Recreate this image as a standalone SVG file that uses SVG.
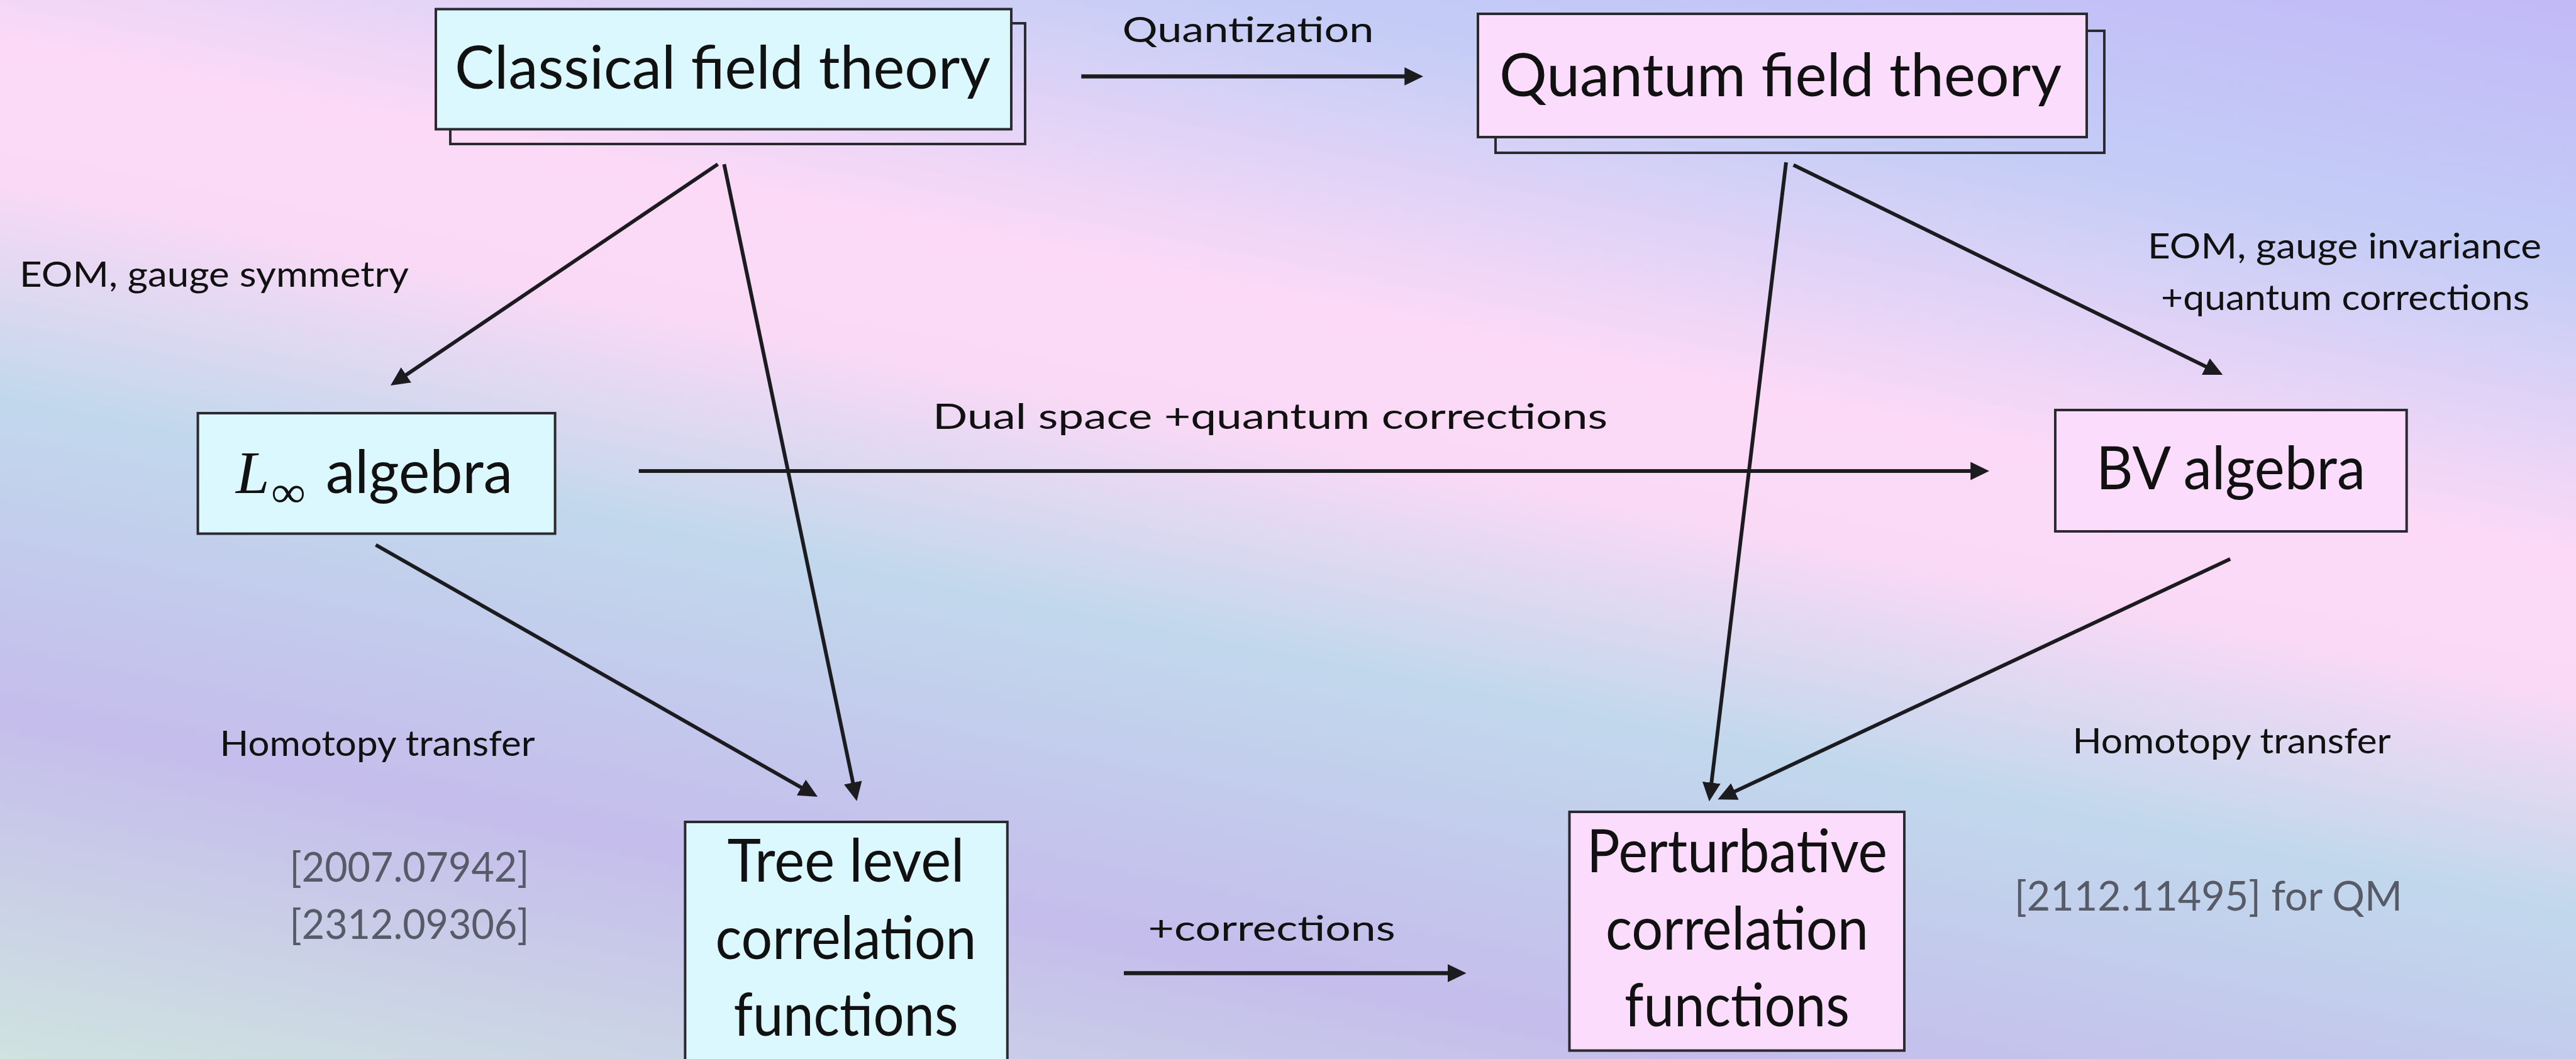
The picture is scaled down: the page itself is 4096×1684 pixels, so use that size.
<svg xmlns="http://www.w3.org/2000/svg" width="4096" height="1684" viewBox="0 0 4096 1684">
<defs>
<linearGradient id="bg" gradientUnits="userSpaceOnUse" x1="4096" y1="0" x2="3614" y2="2408">
<stop offset="0" stop-color="#c2b9f7"/>
<stop offset="0.17" stop-color="#c4cdf6"/>
<stop offset="0.35" stop-color="#fbd9f7"/>
<stop offset="0.44" stop-color="#fad9f6"/>
<stop offset="0.58" stop-color="#c1d8ec"/>
<stop offset="0.78" stop-color="#c5bdec"/>
<stop offset="1" stop-color="#cfe3e0"/>
</linearGradient>
<marker id="ah" markerUnits="userSpaceOnUse" markerWidth="30" markerHeight="30" viewBox="0 0 29 28" refX="11" refY="14" orient="auto">
<path d="M0,0 L29,14 L0,28 z" fill="#1c1c20"/>
</marker>
<style>
.cyan{fill:#dbf8fe;stroke:#2a2a30;stroke-width:4}
.pink{fill:#fcdcfc;stroke:#2a2a30;stroke-width:4}
.shadow{fill:none;stroke:#2a2a30;stroke-width:4}
.node{font-family:Lato,"Noto Sans",sans-serif;font-size:95px;fill:#111}
.lbl{font-family:Lato,"Noto Sans",sans-serif;font-size:57px;fill:#111}
.ref{font-family:Lato,"Noto Sans",sans-serif;font-size:66px;fill:#565b67}
.conn line{stroke:#1c1c20;stroke-width:5.9;marker-end:url(#ah)}
.conn line.thick{stroke-width:6.7}
</style>
</defs>
<rect x="0" y="0" width="4096" height="1684" fill="url(#bg)"/>

<g id="classical">
<rect class="shadow" x="716" y="37" width="914" height="192"/>
<rect class="cyan" x="693" y="14.5" width="915" height="191"/>
<text class="node" x="723" y="141" textLength="852" lengthAdjust="spacingAndGlyphs">Classical field theory</text>
</g>

<g id="quantum">
<rect class="shadow" x="2378" y="49" width="968" height="194"/>
<rect class="pink" x="2350" y="22" width="968" height="196"/>
<text class="node" x="2384" y="153" textLength="894" lengthAdjust="spacingAndGlyphs">Quantum field theory</text>
</g>

<g id="linf">
<rect class="cyan" x="314.6" y="657" width="568" height="191.6"/>
<text x="375" y="783.5" font-family="'Liberation Serif',serif" font-style="italic" font-size="96" fill="#111">L</text>
<text x="431" y="806" font-family="'Liberation Serif',serif" font-size="70" fill="#111" textLength="55" lengthAdjust="spacingAndGlyphs">∞</text>
<text class="node" x="518" y="783.5" textLength="297" lengthAdjust="spacingAndGlyphs">algebra</text>
</g>

<g id="bv">
<rect class="pink" x="3268" y="652" width="558.7" height="193"/>
<text class="node" x="3333" y="777.6" textLength="428" lengthAdjust="spacingAndGlyphs">BV algebra</text>
</g>

<g id="tree">
<rect class="cyan" x="1089.4" y="1307" width="512.4" height="420"/>
<text class="node" x="1345" y="1402" text-anchor="middle" font-size="88" textLength="377" lengthAdjust="spacingAndGlyphs">Tree level</text>
<text class="node" x="1345" y="1524.7" text-anchor="middle" font-size="88" textLength="415" lengthAdjust="spacingAndGlyphs">correlation</text>
<text class="node" x="1345" y="1646.7" text-anchor="middle" font-size="88" textLength="357" lengthAdjust="spacingAndGlyphs">functions</text>
</g>

<g id="pert">
<rect class="pink" x="2495.5" y="1291" width="532.5" height="379.6"/>
<text class="node" x="2762" y="1387" text-anchor="middle" font-size="88" textLength="478" lengthAdjust="spacingAndGlyphs">Perturbative</text>
<text class="node" x="2762" y="1510" text-anchor="middle" font-size="88" textLength="418" lengthAdjust="spacingAndGlyphs">correlation</text>
<text class="node" x="2762" y="1631.6" text-anchor="middle" font-size="88" textLength="358" lengthAdjust="spacingAndGlyphs">functions</text>
</g>

<g id="connectors" class="conn">
<line class="thick" x1="1719.3" y1="121.5" x2="2244.6" y2="121.5"/>
<line x1="1015.7" y1="749" x2="3144.6" y2="749"/>
<line class="thick" x1="1787" y1="1547.5" x2="2313" y2="1547.5"/>
<line x1="1141.4" y1="261.1" x2="636.4" y2="602.5"/>
<line x1="1151.4" y1="261.1" x2="1358.6" y2="1255.6"/>
<line x1="597.5" y1="866.5" x2="1283.9" y2="1257.9"/>
<line x1="2840" y1="258.1" x2="2720" y2="1255.9"/>
<line x1="2851.7" y1="262.3" x2="3517.6" y2="587.9"/>
<line x1="3546.2" y1="888.8" x2="2748.2" y2="1263.4"/>
</g>

<g id="labels">
<text class="lbl" x="1784.5" y="67" font-size="66" textLength="400" lengthAdjust="spacingAndGlyphs">Quantization</text>
<text class="lbl" x="31" y="456" textLength="619" lengthAdjust="spacingAndGlyphs">EOM, gauge symmetry</text>
<text class="lbl" x="3415" y="410.7" textLength="626" lengthAdjust="spacingAndGlyphs">EOM, gauge invariance</text>
<text class="lbl" x="3436" y="492.5" textLength="586" lengthAdjust="spacingAndGlyphs">+quantum corrections</text>
<text class="lbl" x="1483" y="682" font-size="64" textLength="1073" lengthAdjust="spacingAndGlyphs">Dual space +quantum corrections</text>
<text class="lbl" x="349.6" y="1202.4" textLength="501" lengthAdjust="spacingAndGlyphs">Homotopy transfer</text>
<text class="lbl" x="3295.5" y="1197.5" textLength="506" lengthAdjust="spacingAndGlyphs">Homotopy transfer</text>
<text class="lbl" x="1825.6" y="1496" font-size="62" textLength="393" lengthAdjust="spacingAndGlyphs">+corrections</text>
<text class="ref" x="460.5" y="1402" textLength="381" lengthAdjust="spacingAndGlyphs">[2007.07942]</text>
<text class="ref" x="460.5" y="1493" textLength="381" lengthAdjust="spacingAndGlyphs">[2312.09306]</text>
<text class="ref" x="3203" y="1447.7" textLength="617" lengthAdjust="spacingAndGlyphs">[2112.11495] for QM</text>
</g>
</svg>
